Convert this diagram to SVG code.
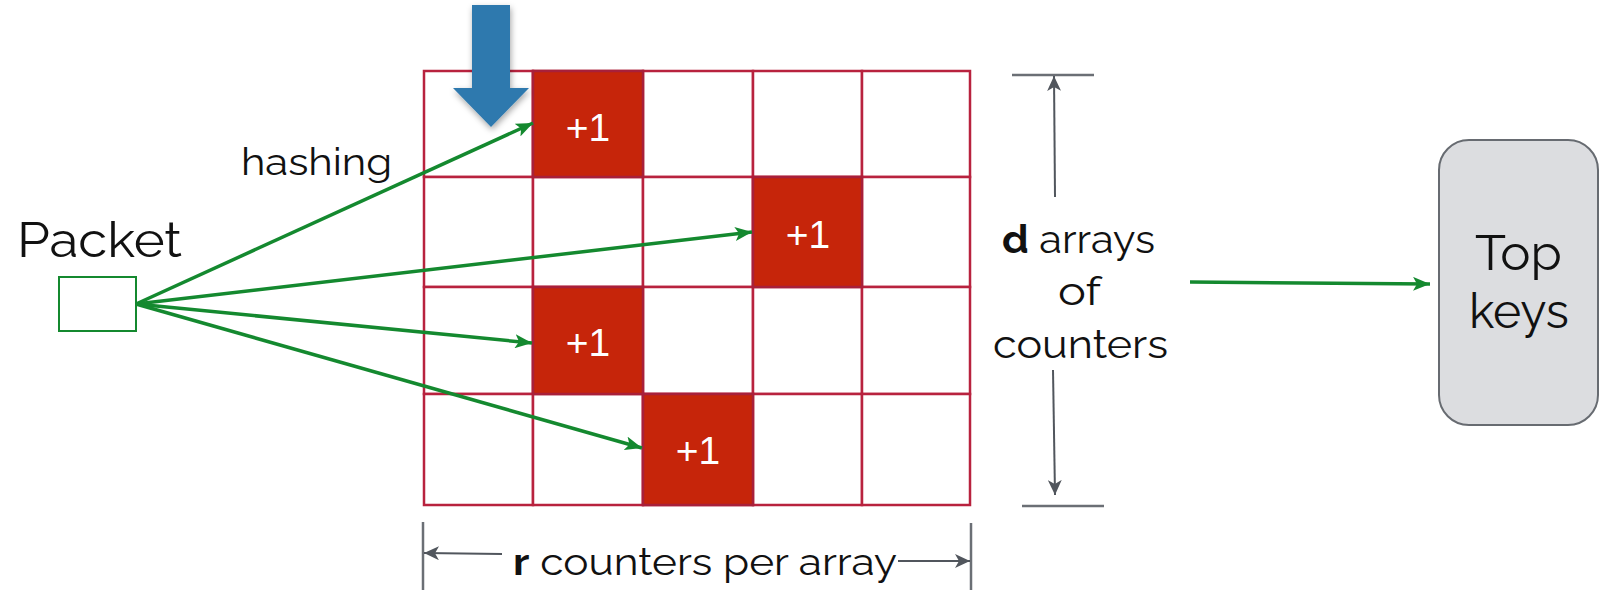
<svg xmlns="http://www.w3.org/2000/svg" width="1603" height="590" viewBox="0 0 1603 590">
<defs>
<style>
.txt{font-family:Raleway,Lato,"Open Sans","Liberation Sans",sans-serif;fill:#111;}
.cell{fill:#ffffff;stroke:#b8223e;stroke-width:2.5;}
.hot{fill:#c6250a;stroke:#a8203a;stroke-width:2.5;}
.plus{font-family:"Liberation Sans",Arial,sans-serif;font-size:39px;fill:#ffffff;text-anchor:middle;}
.green{stroke:#14892f;stroke-width:3.5;fill:none;}
.gray{stroke:#51565d;stroke-width:2;fill:none;}
.bar{stroke:#6b6f75;stroke-width:2.5;fill:none;}
</style>
<marker id="ga" markerUnits="userSpaceOnUse" markerWidth="18" markerHeight="14" refX="17" refY="7" orient="auto">
<path d="M0,0 L17,7 L0,14 L4,7 z" fill="#14892f"/>
</marker>
<marker id="da" markerUnits="userSpaceOnUse" markerWidth="16" markerHeight="14" refX="15" refY="7" orient="auto">
<path d="M0,0 L15,7 L0,14 L4,7 z" fill="#51565d"/>
</marker>
<filter id="sh" x="-30%" y="-20%" width="160%" height="150%">
<feDropShadow dx="1" dy="3" stdDeviation="3" flood-color="#000" flood-opacity="0.35"/>
</filter>
</defs>

<g id="grid">
<rect class="cell" x="424" y="71" width="109" height="106"/>
<rect class="cell" x="533" y="71" width="110" height="106"/>
<rect class="cell" x="643" y="71" width="110" height="106"/>
<rect class="cell" x="753" y="71" width="109" height="106"/>
<rect class="cell" x="862" y="71" width="108" height="106"/>
<rect class="cell" x="424" y="177" width="109" height="110"/>
<rect class="cell" x="533" y="177" width="110" height="110"/>
<rect class="cell" x="643" y="177" width="110" height="110"/>
<rect class="cell" x="753" y="177" width="109" height="110"/>
<rect class="cell" x="862" y="177" width="108" height="110"/>
<rect class="cell" x="424" y="287" width="109" height="107"/>
<rect class="cell" x="533" y="287" width="110" height="107"/>
<rect class="cell" x="643" y="287" width="110" height="107"/>
<rect class="cell" x="753" y="287" width="109" height="107"/>
<rect class="cell" x="862" y="287" width="108" height="107"/>
<rect class="cell" x="424" y="394" width="109" height="111"/>
<rect class="cell" x="533" y="394" width="110" height="111"/>
<rect class="cell" x="643" y="394" width="110" height="111"/>
<rect class="cell" x="753" y="394" width="109" height="111"/>
<rect class="cell" x="862" y="394" width="108" height="111"/>
</g>

<g id="hot-r0">
<rect class="hot" x="533" y="71" width="110" height="106"/>
<text class="plus" x="588" y="141">+1</text>
</g>
<g id="hot-r1">
<rect class="hot" x="753" y="177" width="109" height="110"/>
<text class="plus" x="808" y="248">+1</text>
</g>
<g id="hot-r2">
<rect class="hot" x="533" y="287" width="110" height="107"/>
<text class="plus" x="588" y="356">+1</text>
</g>
<g id="hot-r3">
<rect class="hot" x="643" y="394" width="110" height="111"/>
<text class="plus" x="698" y="464">+1</text>
</g>

<g id="blue-arrow">
<polygon points="472,5 510,5 510,88 529,88 491,127 453,88 472,88" fill="#2f79ae" filter="url(#sh)"/>
</g>

<g id="packet">
<text class="txt" x="17" y="257" font-size="48" textLength="165" lengthAdjust="spacingAndGlyphs">Packet</text>
<rect x="59" y="277" width="77" height="54" fill="#ffffff" stroke="#14892f" stroke-width="2"/>
</g>

<g id="hashing">
<text class="txt" x="241" y="175" font-size="37" textLength="151" lengthAdjust="spacingAndGlyphs">hashing</text>
</g>

<g id="d-label">
<text class="txt" x="1002" y="253" font-size="39" textLength="153" lengthAdjust="spacingAndGlyphs"><tspan font-weight="bold">d</tspan> arrays</text>
<text class="txt" x="1058" y="305" font-size="39" textLength="43" lengthAdjust="spacingAndGlyphs">of</text>
<text class="txt" x="993" y="358" font-size="39" textLength="175" lengthAdjust="spacingAndGlyphs">counters</text>
</g>

<g id="r-label">
<text class="txt" x="513" y="575" font-size="38" textLength="384" lengthAdjust="spacingAndGlyphs"><tspan font-weight="bold">r</tspan> counters per array</text>
</g>

<g id="topkeys">
<rect x="1439" y="140" width="159" height="285" rx="30" ry="30" fill="#dcdde0" stroke="#676b71" stroke-width="2"/>
<text class="txt" x="1475" y="270" font-size="48" textLength="87" lengthAdjust="spacingAndGlyphs">Top</text>
<text class="txt" x="1469" y="328" font-size="48" textLength="100" lengthAdjust="spacingAndGlyphs">keys</text>
</g>

<g id="connectors">
<line class="green" x1="136" y1="304" x2="533" y2="123" marker-end="url(#ga)"/>
<line class="green" x1="136" y1="304" x2="752" y2="232" marker-end="url(#ga)"/>
<line class="green" x1="136" y1="304" x2="532" y2="343" marker-end="url(#ga)"/>
<line class="green" x1="136" y1="304" x2="642" y2="448" marker-end="url(#ga)"/>
<line class="green" x1="1190" y1="282" x2="1430" y2="284" marker-end="url(#ga)"/>
<line class="bar" x1="1012" y1="75" x2="1094" y2="75"/>
<line class="gray" x1="1055" y1="197" x2="1054" y2="76" marker-end="url(#da)"/>
<line class="bar" x1="1022" y1="506" x2="1104" y2="506"/>
<line class="gray" x1="1053" y1="370" x2="1055" y2="495" marker-end="url(#da)"/>
<line class="bar" x1="423" y1="522" x2="423" y2="590"/>
<line class="bar" x1="971" y1="523" x2="971" y2="590"/>
<line class="gray" x1="502" y1="554" x2="424" y2="553" marker-end="url(#da)"/>
<line class="gray" x1="898" y1="561" x2="970" y2="561" marker-end="url(#da)"/>
</g>
</svg>
